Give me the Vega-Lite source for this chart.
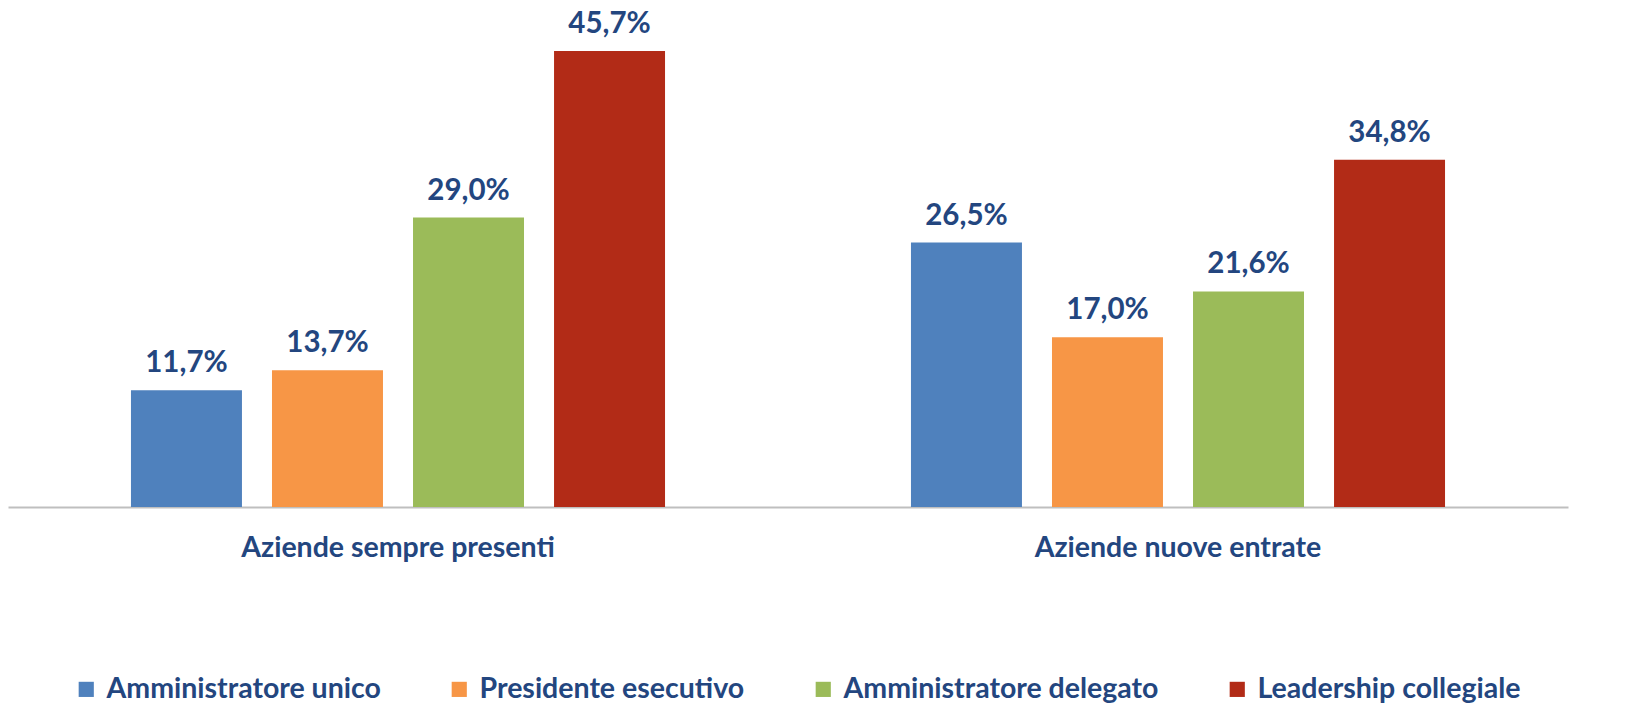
{
  "$schema": "https://vega.github.io/schema/vega-lite/v6.json",
  "width": 1560,
  "height": 499,
  "padding": {"left": 8, "top": 8, "right": 72, "bottom": 203},
  "autosize": {"type": "none"},
  "background": "white",
  "config": {
    "view": {"stroke": null},
    "font": "Lato",
    "text": {"font": "Lato"}
  },
  "data": {
    "values": [
      {"gruppo": "Aziende sempre presenti", "ruolo": "Amministratore unico", "valore": 11.7, "etichetta": "11,7%"},
      {"gruppo": "Aziende sempre presenti", "ruolo": "Presidente esecutivo", "valore": 13.7, "etichetta": "13,7%"},
      {"gruppo": "Aziende sempre presenti", "ruolo": "Amministratore delegato", "valore": 29.0, "etichetta": "29,0%"},
      {"gruppo": "Aziende sempre presenti", "ruolo": "Leadership collegiale", "valore": 45.7, "etichetta": "45,7%"},
      {"gruppo": "Aziende nuove entrate", "ruolo": "Amministratore unico", "valore": 26.5, "etichetta": "26,5%"},
      {"gruppo": "Aziende nuove entrate", "ruolo": "Presidente esecutivo", "valore": 17.0, "etichetta": "17,0%"},
      {"gruppo": "Aziende nuove entrate", "ruolo": "Amministratore delegato", "valore": 21.6, "etichetta": "21,6%"},
      {"gruppo": "Aziende nuove entrate", "ruolo": "Leadership collegiale", "valore": 34.8, "etichetta": "34,8%"}
    ]
  },
  "encoding": {
    "x": {
      "field": "gruppo",
      "type": "nominal",
      "sort": ["Aziende sempre presenti", "Aziende nuove entrate"],
      "scale": {"paddingInner": 0, "paddingOuter": 0},
      "axis": {
        "title": null,
        "labelAngle": 0,
        "ticks": false,
        "domainColor": "#BFBFBF",
        "domainWidth": 2,
        "labelFont": "Lato",
        "labelFontSize": 28.5,
        "labelFontWeight": "bold",
        "labelColor": "#23467F",
        "labelPadding": 26,
        "labelBaseline": "top",
        "labelLimit": 1000
      }
    },
    "xOffset": {
      "field": "ruolo",
      "type": "nominal",
      "sort": ["Amministratore unico", "Presidente esecutivo", "Amministratore delegato", "Leadership collegiale"],
      "scale": {"paddingInner": 0.213, "paddingOuter": 0.872}
    },
    "y": {
      "field": "valore",
      "type": "quantitative",
      "scale": {"domain": [0, 50], "nice": false},
      "axis": null
    }
  },
  "layer": [
    {
      "mark": {"type": "bar"},
      "encoding": {
        "color": {
          "field": "ruolo",
          "type": "nominal",
          "sort": ["Amministratore unico", "Presidente esecutivo", "Amministratore delegato", "Leadership collegiale"],
          "scale": {
            "domain": ["Amministratore unico", "Presidente esecutivo", "Amministratore delegato", "Leadership collegiale"],
            "range": ["#4F81BD", "#F79646", "#9BBB59", "#B22B17"]
          },
          "legend": {
            "title": null,
            "orient": "none",
            "legendX": 64,
            "legendY": 667,
            "direction": "horizontal",
            "columns": 4,
            "symbolType": "square",
            "symbolSize": 230,
            "symbolStrokeWidth": 0,
            "symbolOpacity": 1,
            "labelFont": "Lato",
            "labelFontSize": 28.5,
            "labelFontWeight": "bold",
            "labelColor": "#23467F",
            "labelOffset": 6,
            "columnPadding": 64,
            "labelLimit": 1000
          }
        }
      }
    },
    {
      "mark": {
        "type": "text",
        "baseline": "bottom",
        "dy": -12,
        "font": "Lato",
        "fontSize": 29.5,
        "fontWeight": "bold",
        "color": "#23467F"
      },
      "encoding": {
        "text": {"field": "etichetta", "type": "nominal"}
      }
    }
  ]
}
